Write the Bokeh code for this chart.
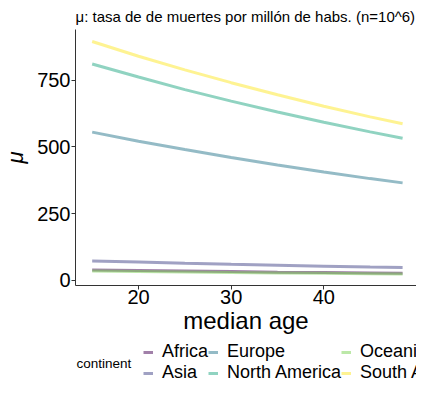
from bokeh.plotting import figure
from bokeh.layouts import column
from bokeh.models import Range1d, Legend, LegendItem, Label, FixedTicker
from bokeh.embed import file_html
from bokeh.resources import INLINE

ages = [15, 20, 25, 30, 35, 40, 45, 48.5]
continents = ["Africa", "Asia", "Europe", "North America", "Oceania", "South America"]
africa = [39, 37, 35, 33, 31, 29.5, 28, 27]
asia = [73, 69, 64.5, 60.5, 57, 53.5, 50, 48]
europe = [555, 521, 490, 460, 432, 406, 381, 365]
north_america = [810, 761, 714, 671, 630, 592, 556, 532]
oceania = [35, 33.5, 31.5, 29.5, 28, 26.5, 25, 24]
south_america = [894, 839, 788, 740, 695, 652, 612, 586]
series = [africa, asia, europe, north_america, oceania, south_america]
colors = ["#440154", "#414487", "#2A788E", "#22A884", "#7AD151", "#FDE725"]
x_ticks = [20, 30, 40]
y_ticks = [0, 250, 500, 750]

FONT = "Liberation Sans"
W = 416

p = figure(width=W, height=336, output_backend="svg", toolbar_location=None,
           x_range=Range1d(13.2, 50.0), y_range=Range1d(-19, 939),
           min_border_left=60, min_border_right=0, min_border_top=24, min_border_bottom=0)
p.title.text = "\u03bc: tasa de de muertes por mill\u00f3n de habs. (n=10^6)"
p.title.text_font = FONT
p.title.text_font_size = "15px"
p.title.text_font_style = "normal"
p.title.text_color = "black"
p.title.offset = 0
p.title.align = "left"

p.grid.visible = False
p.outline_line_color = None
p.background_fill_color = "white"

for ax in (p.xaxis[0], p.yaxis[0]):
    ax.major_label_text_font = FONT
    ax.major_label_text_font_size = "20px"
    ax.major_label_text_color = "black"
    ax.axis_label_text_font = FONT
    ax.axis_label_text_font_style = "normal"
    ax.axis_label_text_color = "black"
    ax.axis_line_color = "#333333"
    ax.major_tick_line_color = "#333333"
    ax.major_tick_in = 0
    ax.major_tick_out = 4
    ax.minor_tick_line_color = None
p.xaxis.ticker = FixedTicker(ticks=x_ticks)
p.yaxis.ticker = FixedTicker(ticks=y_ticks)
p.xaxis.axis_label = "median age"
p.xaxis.axis_label_text_font_size = "24px"
p.xaxis.axis_label_standoff = 0
p.yaxis.axis_label = "\u03bc"
p.yaxis.axis_label_text_font_size = "22px"
p.yaxis.axis_label_text_font_style = "italic"
p.yaxis.axis_label_standoff = 6
p.xaxis.major_label_standoff = 0
p.yaxis.major_label_standoff = 1

for name, vals, col in zip(continents, series, colors):
    p.line(ages, vals, line_color=col, line_alpha=0.5, line_width=3)

# legend panel: same series drawn outside its (0..1) ranges, only the legend shows
q = figure(width=W, height=44, output_backend="svg", toolbar_location=None,
           x_range=Range1d(0, 1), y_range=Range1d(0, 1), min_border=0,
           x_axis_location=None, y_axis_location=None)
q.grid.visible = False
q.outline_line_color = None

items = {}
for name, vals, col in zip(continents, series, colors):
    r = q.line(ages, vals, line_color=col, line_alpha=0.5, line_width=3)
    items[name] = LegendItem(label=name, renderers=[r])

order = ["Africa", "Europe", "Oceania", "Asia", "North America", "South America"]
legend = Legend(items=[items[k] for k in order], orientation="horizontal", ncols=3,
                location=(68, -3), border_line_color=None, background_fill_alpha=0,
                label_text_font=FONT, label_text_font_size="18px", label_text_color="black",
                glyph_width=10, glyph_height=18, label_height=18, label_standoff=9, spacing=0,
                padding=0, margin=0)
q.add_layout(legend, "center")

q.add_layout(Label(x=1, y=17, x_units="screen", y_units="screen", text="continent",
                   text_font=FONT, text_font_size="13.5px",
                   text_color="black", text_baseline="middle"))

layout = column(p, q, spacing=0)
open("out.html", "w").write(file_html(layout, INLINE))
